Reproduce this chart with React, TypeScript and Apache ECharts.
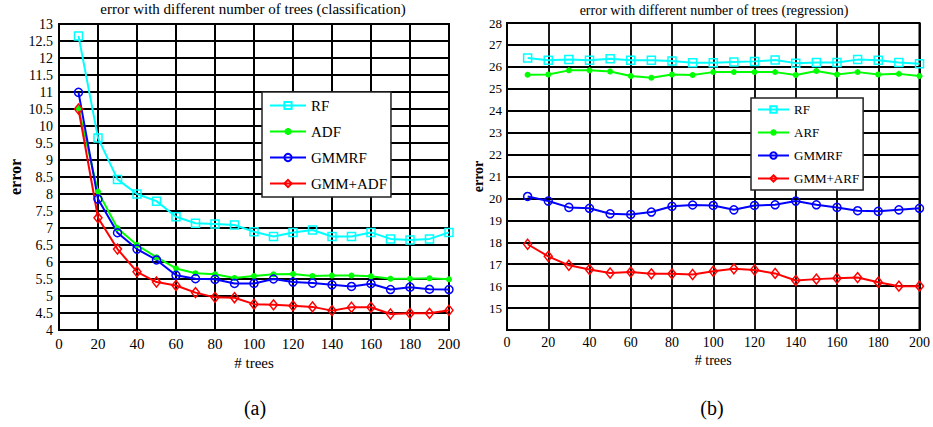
import React, { useEffect, useRef } from 'react';
import * as echarts from 'echarts';

const FONT = "'Liberation Serif', 'Times New Roman', Times, serif";

// number of trees
const xTrees = [10, 20, 30, 40, 50, 60, 70, 80, 90, 100, 110, 120, 130, 140, 150, 160, 170, 180, 190, 200];

// (a) classification error
const rfCls = [12.65, 9.65, 8.43, 8.0, 7.79, 7.33, 7.14, 7.12, 7.09, 6.89, 6.75, 6.87, 6.94, 6.75, 6.75, 6.87, 6.68, 6.65, 6.68, 6.87];
const adfCls = [10.52, 8.07, 6.99, 6.5, 6.14, 5.81, 5.67, 5.64, 5.53, 5.59, 5.64, 5.65, 5.59, 5.6, 5.6, 5.58, 5.51, 5.51, 5.52, 5.49];
const gmmrfCls = [10.99, 7.85, 6.86, 6.38, 6.06, 5.61, 5.51, 5.49, 5.37, 5.37, 5.5, 5.41, 5.38, 5.33, 5.28, 5.36, 5.19, 5.26, 5.2, 5.19];
const gmmAdfCls = [10.5, 7.3, 6.38, 5.71, 5.41, 5.31, 5.1, 4.96, 4.95, 4.76, 4.74, 4.71, 4.68, 4.57, 4.67, 4.67, 4.47, 4.49, 4.49, 4.58];

// (b) regression error
const rfReg = [26.4, 26.3, 26.33, 26.3, 26.37, 26.3, 26.3, 26.27, 26.19, 26.19, 26.22, 26.25, 26.31, 26.17, 26.2, 26.2, 26.33, 26.3, 26.2, 26.14];
const arfReg = [25.64, 25.65, 25.84, 25.84, 25.79, 25.58, 25.5, 25.65, 25.63, 25.76, 25.76, 25.76, 25.76, 25.63, 25.81, 25.65, 25.76, 25.65, 25.68, 25.58];
const gmmrfReg = [20.09, 19.88, 19.59, 19.55, 19.3, 19.27, 19.38, 19.64, 19.7, 19.68, 19.48, 19.68, 19.71, 19.88, 19.71, 19.59, 19.44, 19.41, 19.48, 19.55];
const gmmArfReg = [17.91, 17.36, 16.95, 16.76, 16.6, 16.64, 16.56, 16.56, 16.53, 16.68, 16.79, 16.74, 16.58, 16.26, 16.32, 16.36, 16.39, 16.18, 16.0, 16.0];

const legendCls = ['RF', 'ADF', 'GMMRF', 'GMM+ADF'];
const legendReg = ['RF', 'ARF', 'GMMRF', 'GMM+ARF'];

const titleCls = 'error with different number of trees (classification)';
const titleReg = 'error with different number of trees (regression)';

const CYAN = '#00ffff';
const GREEN = '#00ff00';
const BLUE = '#0000ff';
const RED = '#ff0000';

const ASTERISK = 'path://M5,0L5,10M0,5L10,5M1.5,1.5L8.5,8.5M1.5,8.5L8.5,1.5';

const toPairs = (arr: number[]) => xTrees.map((x, i) => [x, arr[i]]);

function mkSeries(name: string, arr: number[], idx: number, kind: 'rf' | 'adf' | 'gmmrf' | 'gmmadf') {
  const base: any = {
    name,
    type: 'line',
    xAxisIndex: idx,
    yAxisIndex: idx,
    data: toPairs(arr),
    showAllSymbol: true,
    lineStyle: { width: 2 },
    emphasis: { disabled: true },
  };
  if (kind === 'rf') {
    base.symbol = 'rect';
    base.symbolSize = 8;
    base.lineStyle.color = CYAN;
    base.itemStyle = { color: 'rgba(0,0,0,0)', borderColor: CYAN, borderWidth: 1.5 };
  } else if (kind === 'adf') {
    base.symbol = ASTERISK;
    base.symbolSize = 6;
    base.lineStyle.color = GREEN;
    base.itemStyle = { color: GREEN, borderColor: GREEN, borderWidth: 1.8 };
  } else if (kind === 'gmmrf') {
    base.symbol = 'circle';
    base.symbolSize = 8;
    base.lineStyle.color = BLUE;
    base.itemStyle = { color: 'rgba(0,0,0,0)', borderColor: BLUE, borderWidth: 1.5 };
  } else {
    base.symbol = 'diamond';
    base.symbolSize = [8, 10];
    base.lineStyle.color = RED;
    base.itemStyle = { color: 'rgba(0,0,0,0)', borderColor: RED, borderWidth: 1.5 };
  }
  return base;
}

const splitLineA = { show: true, lineStyle: { color: '#000', width: 2 } };
const splitLineB = { show: true, lineStyle: { color: '#000', width: 1.8 } };
const axisLine = { show: true, lineStyle: { color: '#000', width: 2 } };

export default function App() {
  const ref = useRef<HTMLDivElement>(null);
  useEffect(() => {
    const chart = echarts.init(ref.current!, null, { renderer: 'svg' });
    const option: any = {
      animation: false,
      backgroundColor: '#fff',
      textStyle: { fontFamily: FONT, color: '#000' },
      grid: [
        { left: 59, top: 24, width: 390, height: 306, show: true, borderColor: '#000', borderWidth: 2, backgroundColor: 'transparent' },
        { left: 507, top: 23, width: 416, height: 307, show: true, borderColor: '#000', borderWidth: 2, backgroundColor: 'transparent' },
      ],
      xAxis: [
        {
          type: 'value', gridIndex: 0, min: 0, max: 200, interval: 20,
          name: '# trees', nameLocation: 'middle', nameGap: 22,
          nameTextStyle: { fontFamily: FONT, fontSize: 15, color: '#000' },
          axisLine, axisTick: { show: false }, splitLine: splitLineA,
          axisLabel: { fontFamily: FONT, fontSize: 15, color: '#000', margin: 6 },
        },
        {
          type: 'value', gridIndex: 1, min: 0, max: 200, interval: 20,
          name: '# trees', nameLocation: 'middle', nameGap: 19,
          nameTextStyle: { fontFamily: FONT, fontSize: 14, color: '#000' },
          axisLine, axisTick: { show: false }, splitLine: splitLineB,
          axisLabel: { fontFamily: FONT, fontSize: 14, color: '#000', margin: 5 },
        },
      ],
      yAxis: [
        {
          type: 'value', gridIndex: 0, min: 4, max: 13, interval: 0.5,
          name: 'error', nameLocation: 'middle', nameGap: 36, nameRotate: 90,
          nameTextStyle: { fontFamily: FONT, fontSize: 16, fontWeight: 'bold', color: '#000' },
          axisLine, axisTick: { show: false }, splitLine: splitLineA,
          axisLabel: { fontFamily: FONT, fontSize: 14, color: '#000', margin: 6 },
        },
        {
          type: 'value', gridIndex: 1, min: 14, max: 28, interval: 1,
          name: 'error', nameLocation: 'middle', nameGap: 19, nameRotate: 90,
          nameTextStyle: { fontFamily: FONT, fontSize: 14, fontWeight: 'bold', color: '#000' },
          axisLine, axisTick: { show: false }, splitLine: splitLineB,
          axisLabel: {
            fontFamily: FONT, fontSize: 13, color: '#000', margin: 5,
            formatter: (v: number) => (v === 14 ? '' : String(v)),
          },
        },
      ],
      legend: [
        {
          data: legendCls, orient: 'vertical', left: 262, top: 92,
          itemWidth: 36, itemHeight: 9, itemGap: 11,
          padding: [6, 4, 6, 7],
          backgroundColor: '#fff', borderColor: '#222', borderWidth: 1.5, borderRadius: 0,
          textStyle: { fontFamily: FONT, fontSize: 15, color: '#000' },
          selectedMode: false,
        },
        {
          data: legendReg, orient: 'vertical', left: 751, top: 98,
          itemWidth: 31, itemHeight: 8, itemGap: 10,
          padding: [5, 4, 5, 6],
          backgroundColor: '#fff', borderColor: '#222', borderWidth: 1.5, borderRadius: 0,
          textStyle: { fontFamily: FONT, fontSize: 13, color: '#000' },
          selectedMode: false,
        },
      ],
      graphic: [
        { type: 'text', x: 253, y: 9, style: { text: titleCls, font: `15px ${FONT}`, fill: '#000', align: 'center', verticalAlign: 'middle' } },
        { type: 'text', x: 714, y: 10, style: { text: titleReg, font: `14px ${FONT}`, fill: '#000', align: 'center', verticalAlign: 'middle' } },
        { type: 'text', x: 255, y: 408, style: { text: '(a)', font: `20px ${FONT}`, fill: '#000', align: 'center', verticalAlign: 'middle' } },
        { type: 'text', x: 712, y: 408, style: { text: '(b)', font: `20px ${FONT}`, fill: '#000', align: 'center', verticalAlign: 'middle' } },
      ],
      series: [
        mkSeries('RF', rfCls, 0, 'rf'),
        mkSeries('ADF', adfCls, 0, 'adf'),
        mkSeries('GMMRF', gmmrfCls, 0, 'gmmrf'),
        mkSeries('GMM+ADF', gmmAdfCls, 0, 'gmmadf'),
        mkSeries('RF', rfReg, 1, 'rf'),
        mkSeries('ARF', arfReg, 1, 'adf'),
        mkSeries('GMMRF', gmmrfReg, 1, 'gmmrf'),
        mkSeries('GMM+ARF', gmmArfReg, 1, 'gmmadf'),
      ],
    };
    chart.setOption(option);
    return () => chart.dispose();
  }, []);
  return (
    <div
      ref={ref}
      style={{ position: 'fixed', left: 0, top: 0, width: 933, height: 427, background: '#fff' }}
    />
  );
}
